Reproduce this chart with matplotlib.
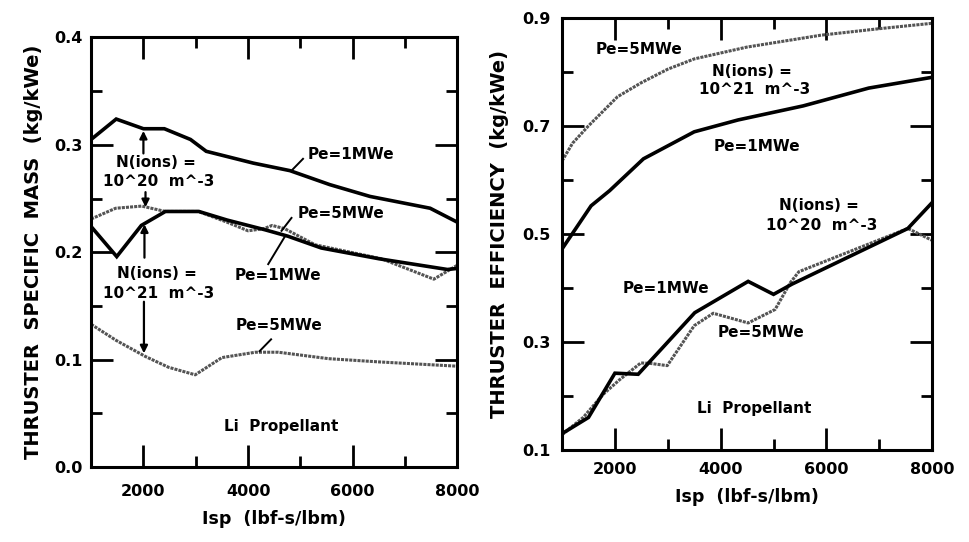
import matplotlib
matplotlib.use('Agg')
import matplotlib.pyplot as plt
from matplotlib.ticker import MultipleLocator

plt.rcParams['font.family'] = ['DejaVu Sans']
plt.rcParams['font.weight'] = 'bold'

# ---- left panel: thruster specific mass ----
isp_m_1mw_n20 = [1000, 1480, 2000, 2400, 2900, 3200, 4100, 4800, 5560, 6330, 7480, 8000]
mass_1mw_n20 = [0.305, 0.324, 0.315, 0.315, 0.305, 0.294, 0.283, 0.276, 0.263, 0.252, 0.241, 0.228]

isp_m_5mw_n20 = [1000, 1470, 1970, 2420, 3050, 3600, 4000, 4300, 4460, 4700, 5280, 6550, 7550, 8000]
mass_5mw_n20 = [0.231, 0.241, 0.243, 0.238, 0.238, 0.228, 0.220, 0.222, 0.225, 0.222, 0.207, 0.194, 0.175, 0.188]

isp_m_1mw_n21 = [1000, 1490, 1960, 2420, 3060, 3600, 4320, 4760, 5400, 6500, 7810, 8000]
mass_1mw_n21 = [0.224, 0.196, 0.225, 0.238, 0.238, 0.230, 0.221, 0.215, 0.204, 0.194, 0.184, 0.185]

isp_m_5mw_n21 = [1000, 1480, 2040, 2480, 2990, 3500, 4140, 4580, 5540, 6500, 8000]
mass_5mw_n21 = [0.133, 0.118, 0.103, 0.093, 0.086, 0.102, 0.107, 0.107, 0.101, 0.098, 0.094]

# ---- right panel: thruster efficiency ----
isp_e_5mw_n21 = [1000, 1200, 1500, 2050, 2500, 3000, 3500, 4500, 5900, 7000, 8000]
eff_5mw_n21 = [0.635, 0.668, 0.700, 0.754, 0.780, 0.805, 0.824, 0.846, 0.868, 0.880, 0.890]

isp_e_1mw_n21 = [1000, 1550, 1900, 2540, 3500, 4330, 5560, 6800, 8000]
eff_1mw_n21 = [0.472, 0.552, 0.580, 0.639, 0.689, 0.711, 0.737, 0.770, 0.790]

isp_e_1mw_n20 = [1000, 1500, 2000, 2440, 3510, 4520, 5000, 5350, 7540, 8000]
eff_1mw_n20 = [0.130, 0.160, 0.242, 0.240, 0.354, 0.412, 0.388, 0.407, 0.510, 0.558]

isp_e_5mw_n20 = [1000, 1400, 1780, 2090, 2490, 2680, 2990, 3500, 3860, 4520, 5030, 5320, 5480, 7540, 8000]
eff_5mw_n20 = [0.128, 0.160, 0.203, 0.230, 0.261, 0.260, 0.256, 0.330, 0.353, 0.335, 0.360, 0.410, 0.430, 0.510, 0.488]

SOLID = dict(color='black', lw=2.6, solid_joinstyle='miter')
DOTTED = dict(color='0.33', lw=2.2, linestyle=(0, (1.0, 0.35)))
TXT = dict(fontsize=11, fontweight='bold')
ARROW = dict(arrowstyle='-|>', color='black', lw=1.6, mutation_scale=11, shrinkA=0, shrinkB=0)


def style_axes(ax, ylo, yhi, ymaj, ymin, ylabels, ypad, xpad):
    ax.set_xlim(1000, 8000)
    ax.set_ylim(ylo, yhi)
    ax.xaxis.set_major_locator(MultipleLocator(2000))
    ax.xaxis.set_minor_locator(MultipleLocator(1000))
    ax.set_yticks(ymaj)
    ax.set_yticks(ymin, minor=True)
    ax.set_yticklabels(ylabels)
    ax.tick_params(which='both', direction='in', top=True, right=True, width=2, labelsize=11.5)
    ax.tick_params(which='major', length=16)
    ax.tick_params(which='minor', length=8)
    ax.tick_params(axis='y', pad=ypad)
    ax.tick_params(axis='x', pad=xpad)
    for lab in ax.get_xticklabels() + ax.get_yticklabels():
        lab.set_fontweight('bold')
    for sp in ax.spines.values():
        sp.set_linewidth(2.2)
    ax.set_xlabel('Isp  (lbf-s/lbm)', fontsize=12.5, fontweight='bold', labelpad=8)


fig = plt.figure(figsize=(9.69, 5.42), dpi=100)
ax1 = fig.add_axes([0.094, 0.138, 0.378, 0.793])
ax2 = fig.add_axes([0.580, 0.170, 0.382, 0.797])

# left panel
ax1.plot(isp_m_1mw_n20, mass_1mw_n20, **SOLID)
ax1.plot(isp_m_5mw_n20, mass_5mw_n20, **DOTTED)
ax1.plot(isp_m_1mw_n21, mass_1mw_n21, **SOLID)
ax1.plot(isp_m_5mw_n21, mass_5mw_n21, **DOTTED)

style_axes(ax1, 0.0, 0.4, [0.0, 0.1, 0.2, 0.3, 0.4], [0.05, 0.15, 0.25, 0.35],
           ['0.0', '0.1', '0.2', '0.3', '0.4'], ypad=6, xpad=12)
ax1.set_ylabel('THRUSTER  SPECIFIC  MASS  (kg/kWe)', fontsize=14, fontweight='bold', labelpad=8)

ax1.text(5130, 0.291, 'Pe=1MWe', ha='left', va='center', **TXT)
ax1.plot([4830, 5050], [0.276, 0.287], color='black', lw=1.4)
ax1.text(2245, 0.284, 'N(ions) =', ha='center', va='center', **TXT)
ax1.text(2285, 0.266, '10^20  m^-3', ha='center', va='center', **TXT)
ax1.annotate('', xy=(2000, 0.313), xytext=(2000, 0.292), arrowprops=ARROW)
ax1.annotate('', xy=(2040, 0.242), xytext=(2040, 0.256), arrowprops=ARROW)
ax1.text(4944, 0.236, 'Pe=5MWe', ha='left', va='center', **TXT)
ax1.plot([4640, 4830], [0.220, 0.232], color='black', lw=1.4)
ax1.text(3743, 0.178, 'Pe=1MWe', ha='left', va='center', **TXT)
ax1.plot([4695, 4385], [0.214, 0.189], color='black', lw=1.4)
ax1.text(2250, 0.180, 'N(ions) =', ha='center', va='center', **TXT)
ax1.text(2290, 0.162, '10^21  m^-3', ha='center', va='center', **TXT)
ax1.annotate('', xy=(2020, 0.226), xytext=(2020, 0.195), arrowprops=ARROW)
ax1.annotate('', xy=(2010, 0.106), xytext=(2010, 0.154), arrowprops=ARROW)
ax1.text(3760, 0.132, 'Pe=5MWe', ha='left', va='center', **TXT)
ax1.plot([4220, 4440], [0.108, 0.119], color='black', lw=1.4)
ax1.text(4640, 0.038, 'Li  Propellant', ha='center', va='center', **TXT)

# right panel
ax2.plot(isp_e_5mw_n21, eff_5mw_n21, **DOTTED)
ax2.plot(isp_e_1mw_n21, eff_1mw_n21, **SOLID)
ax2.plot(isp_e_5mw_n20, eff_5mw_n20, **DOTTED)
ax2.plot(isp_e_1mw_n20, eff_1mw_n20, **SOLID)

style_axes(ax2, 0.1, 0.9, [0.1, 0.3, 0.5, 0.7, 0.9], [0.2, 0.4, 0.6, 0.8],
           ['0.1', '0.3', '0.5', '0.7', '0.9'], ypad=8, xpad=9)
ax2.set_ylabel('THRUSTER  EFFICIENCY  (kg/kWe)', fontsize=14, fontweight='bold', labelpad=10)

ax2.text(1635, 0.842, 'Pe=5MWe', ha='left', va='center', **TXT)
ax2.text(4590, 0.800, 'N(ions) =', ha='center', va='center', **TXT)
ax2.text(4645, 0.767, '10^21  m^-3', ha='center', va='center', **TXT)
ax2.text(4695, 0.661, 'Pe=1MWe', ha='center', va='center', **TXT)
ax2.text(5855, 0.553, 'N(ions) =', ha='center', va='center', **TXT)
ax2.text(5910, 0.516, '10^20  m^-3', ha='center', va='center', **TXT)
ax2.text(2146, 0.399, 'Pe=1MWe', ha='left', va='center', **TXT)
ax2.text(3943, 0.317, 'Pe=5MWe', ha='left', va='center', **TXT)
ax2.text(4635, 0.177, 'Li  Propellant', ha='center', va='center', **TXT)

fig.savefig('out.png', dpi=100)
